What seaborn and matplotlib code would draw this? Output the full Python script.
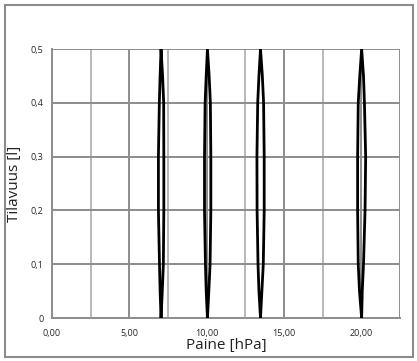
import matplotlib
matplotlib.use("Agg")
import matplotlib.pyplot as plt
import seaborn as sns
import pandas as pd
from matplotlib.patches import Rectangle

# Volume points going up the left side then down the right side of each loop
volume = [0.0, 0.05, 0.1, 0.2, 0.3, 0.4, 0.45, 0.5, 0.45, 0.4, 0.3, 0.2, 0.1, 0.05, 0.0]
loop1 = [7.05, 6.99, 6.95, 6.88, 6.88, 6.94, 6.99, 7.05, 7.15, 7.22, 7.23, 7.23, 7.20, 7.13, 7.05]
loop2 = [10.05, 9.97, 9.92, 9.86, 9.86, 9.90, 9.97, 10.05, 10.16, 10.24, 10.27, 10.27, 10.22, 10.14, 10.05]
loop3 = [13.48, 13.38, 13.32, 13.26, 13.25, 13.30, 13.38, 13.48, 13.60, 13.68, 13.72, 13.72, 13.66, 13.57, 13.48]
loop4 = [20.02, 19.88, 19.80, 19.76, 19.76, 19.80, 19.90, 20.02, 20.14, 20.20, 20.28, 20.24, 20.14, 20.06, 20.02]

x_ticks = [0, 5, 10, 15, 20]
x_labels = ["0,00", "5,00", "10,00", "15,00", "20,00"]
y_ticks = [0, 0.1, 0.2, 0.3, 0.4, 0.5]
y_labels = ["0", "0,1", "0,2", "0,3", "0,4", "0,5"]

sns.set_style("white")
plt.rcParams['font.family'] = ['Open Sans', 'DejaVu Sans']

fig = plt.figure(figsize=(4.17, 3.61), dpi=100)
ax = fig.add_axes([52/417, 43/361, 348/417, 269/361])

# gridlines
for xv in [2.5, 7.5, 12.5, 17.5]:
    ax.axvline(xv, color="#b8b8b8", lw=1.4, zorder=0)
for xv in [5, 10, 15, 20, 22.5]:
    ax.axvline(xv, color="#8c8c8c", lw=1.4, zorder=0)
for yv in [0.1, 0.2, 0.3, 0.4, 0.5]:
    ax.axhline(yv, color="#8c8c8c", lw=1.4, zorder=0)

rows = []
for i, lp in enumerate([loop1, loop2, loop3, loop4]):
    for j, (p, v) in enumerate(zip(lp, volume)):
        rows.append({"loop": i, "order": j, "Paine": p, "Tilavuus": v})
df = pd.DataFrame(rows)
for i, g in df.groupby("loop"):
    sns.lineplot(data=g, x="Paine", y="Tilavuus", sort=False, estimator=None,
                 color="black", lw=2.0, ax=ax, zorder=3)

ax.set_xlim(0, 22.5)
ax.set_ylim(0, 0.5)
ax.set_xticks(x_ticks)
ax.set_xticklabels(x_labels, fontsize=6.5)
ax.set_yticks(y_ticks)
ax.set_yticklabels(y_labels, fontsize=6.5)
ax.tick_params(axis="both", length=3, width=1, color="#8c8c8c", direction="out", pad=3)
ax.tick_params(axis="x", pad=5)
for s in ["top", "right"]:
    ax.spines[s].set_visible(False)
for s in ["left", "bottom"]:
    ax.spines[s].set_color("#8c8c8c")
    ax.spines[s].set_linewidth(1.4)
ax.set_xlabel("Paine [hPa]", fontsize=11, labelpad=0, color="#222222")
ax.set_ylabel("Tilavuus [l]", fontsize=11, labelpad=6, color="#222222")

fig.patches.append(Rectangle((4.5/417, 4.5/361), 408/417, 352/361, transform=fig.transFigure,
                             fill=False, edgecolor="#8c8c8c", lw=1.5))

fig.savefig("out.png", dpi=100)
